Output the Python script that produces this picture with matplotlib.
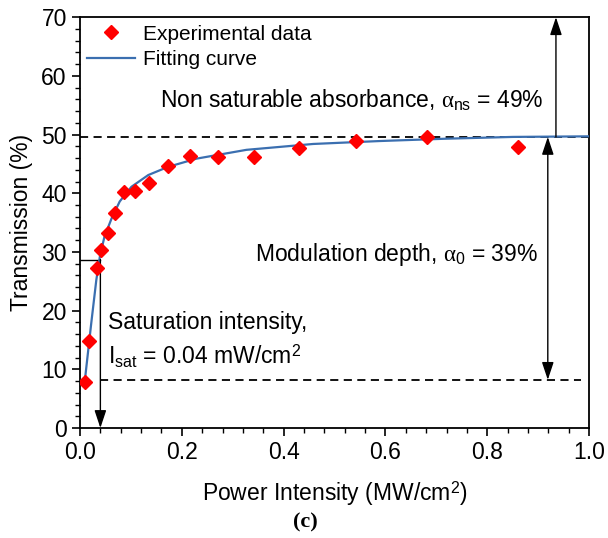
import matplotlib
matplotlib.use("Agg")
import matplotlib.pyplot as plt
from matplotlib.ticker import MultipleLocator

plt.rcParams['font.family'] = ['Liberation Sans', 'DejaVu Sans']
plt.rcParams['mathtext.fontset'] = 'custom'
plt.rcParams['mathtext.rm'] = 'Liberation Sans'
plt.rcParams['mathtext.it'] = 'Liberation Serif'

# Experimental data
x_exp = [0.009, 0.018, 0.034, 0.042, 0.055, 0.069, 0.086, 0.109, 0.136,
         0.172, 0.216, 0.272, 0.342, 0.431, 0.542, 0.681, 0.860]
y_exp = [7.9, 14.9, 27.3, 30.4, 33.3, 36.7, 40.2, 40.3, 41.7,
         44.7, 46.4, 46.2, 46.2, 47.7, 48.9, 49.6, 47.8]

# Fitting curve
x_fit = [0.009, 0.022, 0.032, 0.039, 0.048, 0.062, 0.078, 0.101, 0.134,
         0.173, 0.229, 0.327, 0.458, 0.589, 0.72, 0.85, 1.0]
y_fit = [7.7, 17.8, 25.2, 29.2, 32.6, 35.7, 38.6, 41.1, 43.1,
         44.5, 45.9, 47.4, 48.4, 48.9, 49.3, 49.6, 49.7]

# Annotation levels
t_ns = 49.6
t_min = 8.2
i_sat = 0.04
t_sat = 28.7

fig = plt.figure(figsize=(6.08, 5.38), dpi=100)
ax = fig.add_axes([0.1316, 0.2045, 0.8372, 0.7635])

ax.plot(x_fit, y_fit, color='#3b6fb0', lw=1.6, label='Fitting curve', zorder=3)
ax.plot(x_exp, y_exp, 'D', color='#ff0000', ms=7.5, mec='#ff0000',
        linestyle='none', label='Experimental data', zorder=4)

# dashed lines
ax.plot([0, 1.0], [t_ns, t_ns], color='black', ls=(0, (4.5, 3)), lw=1.3, zorder=2)
ax.plot([i_sat, 0.985], [t_min, t_min], color='black', ls=(0, (4.5, 3)), lw=1.3, zorder=2)

# Isat lines
ax.plot([0, i_sat], [t_sat, t_sat], color='black', lw=1.0, zorder=2)
ax.annotate('', xy=(i_sat, 0), xytext=(i_sat, t_sat),
            arrowprops=dict(arrowstyle='-|>,head_width=0.3,head_length=0.9', color='black', lw=1.0,
                            mutation_scale=12, shrinkA=0, shrinkB=0))

# modulation depth arrow
ax.annotate('', xy=(0.919, t_ns), xytext=(0.919, t_min),
            arrowprops=dict(arrowstyle='<|-|>,head_width=0.3,head_length=0.9', color='black', lw=1.0,
                            mutation_scale=12, shrinkA=0, shrinkB=0))
# non saturable arrow
ax.annotate('', xy=(0.935, 70), xytext=(0.935, t_ns),
            arrowprops=dict(arrowstyle='-|>,head_width=0.3,head_length=0.9', color='black', lw=1.0,
                            mutation_scale=12, shrinkA=0, shrinkB=0))

fs_ann = 16.5
ax.text(0.157, 55.9, r'Non saturable absorbance, $\alpha_{\mathrm{ns}}$ = 49%',
        fontsize=fs_ann, va='center', ha='left')
ax.text(0.344, 29.5, r'Modulation depth, $\alpha_{\mathrm{0}}$ = 39%',
        fontsize=fs_ann, va='center', ha='left')
ax.text(0.055, 17.9, 'Saturation intensity,', fontsize=fs_ann, va='center', ha='left')
ax.text(0.055, 12.2, r'I$_{\mathrm{sat}}$ = 0.04 mW/cm$^{2}$', fontsize=fs_ann,
        va='center', ha='left')

ax.set_xlim(0, 1.0)
ax.set_ylim(0, 70)
ax.xaxis.set_major_locator(MultipleLocator(0.2))
ax.xaxis.set_minor_locator(MultipleLocator(0.04))
ax.yaxis.set_major_locator(MultipleLocator(10))
ax.yaxis.set_minor_locator(MultipleLocator(2))
ax.xaxis.set_major_formatter(matplotlib.ticker.FormatStrFormatter('%.1f'))
ax.tick_params(axis='both', which='major', direction='out', length=6, width=1.2,
               labelsize=16.5, top=False, right=False)
ax.tick_params(axis='both', which='minor', direction='out', length=3.5, width=1.0,
               top=False, right=False)
for s in ax.spines.values():
    s.set_linewidth(1.3)

ax.set_xlabel('Power Intensity (MW/cm$^{2}$)', fontsize=16.5, labelpad=11)
ax.set_ylabel('Transmission (%)', fontsize=16.5, labelpad=6)

h, l = ax.get_legend_handles_labels()
ax.legend([h[1], h[0]], [l[1], l[0]], loc='upper left', bbox_to_anchor=(-0.01, 1.012),
          frameon=False, fontsize=15, handlelength=2.3, handletextpad=0.35,
          labelspacing=0.3, borderaxespad=0.2)

fig.text(0.503, 0.028, '(c)', fontsize=16, fontweight='bold',
         family='Liberation Serif', ha='center', va='center')

fig.savefig('out.png', dpi=100)
